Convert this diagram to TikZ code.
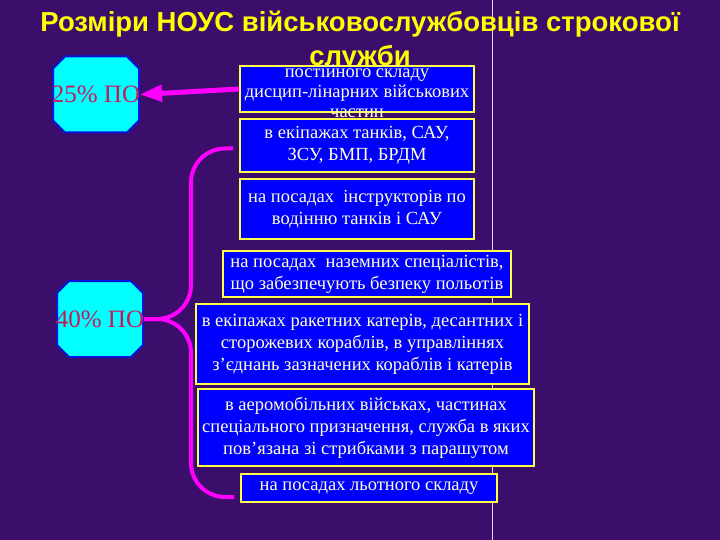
\documentclass[tikz,border=0pt]{standalone}
\usepackage{fontspec}
\setmainfont{Liberation Serif}
\newfontfamily\titlefont{Liberation Sans}
\usetikzlibrary{positioning,arrows.meta,calc,shapes.misc}
\definecolor{slidebg}{HTML}{3A0E6A}
\definecolor{boxblue}{HTML}{0000FF}
\definecolor{boxedge}{HTML}{FFFF4A}
\definecolor{boxtext}{HTML}{FFFFD2}
\definecolor{octfill}{HTML}{00FFFF}
\definecolor{octedge}{HTML}{0A14D8}
\definecolor{pcttext}{HTML}{C8185A}
\definecolor{brmag}{HTML}{FF00FF}
\definecolor{titleyellow}{HTML}{FFFF00}
\tikzset{
  box/.style={draw=boxedge, line width=2pt, fill=boxblue, align=center,
    inner sep=2pt, text=boxtext, font=\fontsize{18.5pt}{22pt}\selectfont},
  oct/.style={chamfered rectangle, chamfered rectangle xsep=6pt,
    chamfered rectangle ysep=6pt, draw=octedge, line width=2pt, fill=octfill,
    text=pcttext, inner sep=0pt, text height=40pt, text depth=24pt,
    font=\fontsize{25pt}{28pt}\selectfont},
  arr/.style={-{Triangle[length=22pt,width=16pt]}, line width=5pt, color=brmag},
  brace/.style={line width=4pt, color=brmag, rounded corners=34pt},
  ttl/.style={text=titleyellow, align=center,
    font=\titlefont\bfseries\fontsize{27.5pt}{34pt}\selectfont},
}
\begin{document}
\begin{tikzpicture}[x=1pt, y=-1pt]
  \fill[slidebg] (0,0) rectangle (720,540);
  \useasboundingbox (0,0) rectangle (720,540);
  \draw[white!85!slidebg, line width=1pt] (492,0) -- (492,540);
  \node[ttl] (title) at (360,41) {Розміри НОУС військовослужбовців строкової\\служби};
  % right column
  \node[box, minimum width=234pt, minimum height=46pt] (b1) at (357,89)
    {\smash{\raisebox{-9pt}{\fontsize{18.5pt}{20pt}\selectfont\begin{tabular}{@{}c@{}}постійного складу\\дисцип-лінарних військових\\частин\end{tabular}}}};
  \node[box, minimum width=234pt, minimum height=53pt, below=5pt of b1] (b2)
    {в екіпажах танків, САУ,\\ЗСУ, БМП, БРДМ};
  \node[box, minimum width=234pt, minimum height=60pt, below=5pt of b2] (b3)
    {на посадах \ інструкторів по\\водінню танків і САУ};
  \node[box, minimum width=288pt, minimum height=46pt, below=10pt of b3, xshift=10pt] (b4)
    {на посадах \ наземних спеціалістів,\\що забезпечують безпеку польотів};
  \node[box, minimum width=333pt, minimum height=80pt, below=5pt of b4, xshift=-4.5pt] (b5)
    {в екіпажах ракетних катерів, десантних і\\сторожевих кораблів, в управліннях\\з’єднань зазначених кораблів і катерів};
  \node[box, minimum width=336pt, minimum height=77pt, below=3pt of b5, xshift=3.5pt] (b6)
    {в аеромобільних військах, частинах\\спеціального призначення, служба в яких\\пов’язана зі стрибками з парашутом};
  \node[box, minimum width=256pt, minimum height=28pt, below=6pt of b6, xshift=3pt] (b7)
    {на посадах льотного складу};
  % left column
  \node[oct] (p25) at (96,94.5) {\makebox[74pt]{25\% ПО}};
  \node[oct] (p40) at (100,319) {\makebox[74pt]{40\% ПО}};
  \draw[arr] (b1.west) -- (p25.east);
  \draw[brace] (p40.east) -- ++(47,0) |- ($(b2.west)+(-6,3)$);
  \draw[brace] (p40.east) -- ++(47,0) |- ($(b7.west)+(-6,9)$);
\end{tikzpicture}
\end{document}
